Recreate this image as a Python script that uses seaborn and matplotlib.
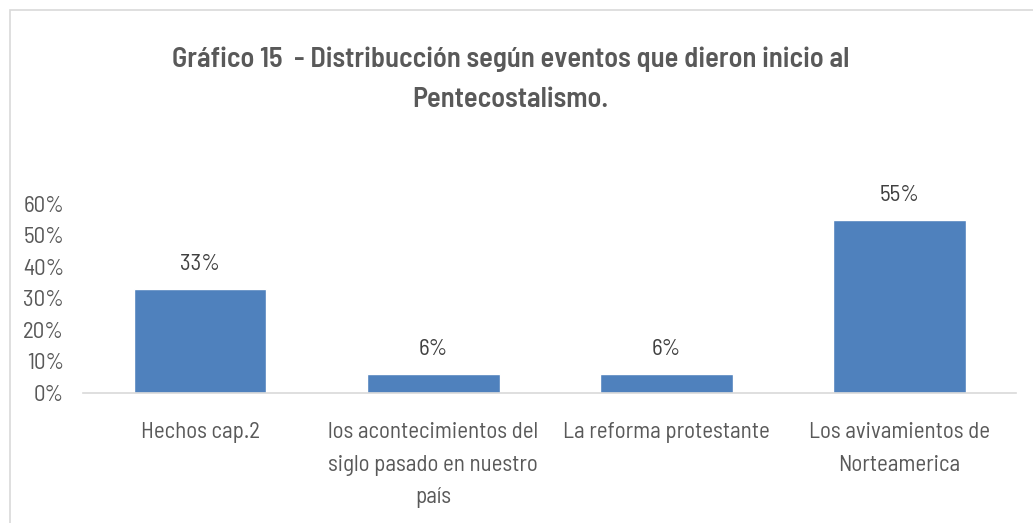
import matplotlib
matplotlib.use("Agg")
import matplotlib.pyplot as plt
import seaborn as sns
import pandas as pd
from matplotlib.ticker import PercentFormatter

categories = ["Hechos cap.2",
              "los acontecimientos del\nsiglo pasado en nuestro\npaís",
              "La reforma protestante",
              "Los avivamientos de\nNorteamerica"]
values = [0.33, 0.06, 0.06, 0.55]
value_labels = ["33%", "6%", "6%", "55%"]
title = "Gráfico 15  - Distribucción según eventos que dieron inicio al\nPentecostalismo."

sns.set_theme(style="white")
plt.rcParams['font.family'] = ['Barlow Semi Condensed', 'Liberation Sans', 'DejaVu Sans']

df = pd.DataFrame({"cat": categories, "val": values})

fig = plt.figure(figsize=(10.33, 5.23), dpi=100)
ax = fig.add_axes([0.0808, 0.2486, 0.9027, 0.3614])
sns.barplot(data=df, x="cat", y="val", color="#4F81BD", width=0.57,
            saturation=1, ax=ax)
ax.set_xlim(-0.5, 3.5)
ax.set_ylim(0, 0.6)
ax.set_yticks([0, 0.1, 0.2, 0.3, 0.4, 0.5, 0.6])
ax.yaxis.set_major_formatter(PercentFormatter(1.0, decimals=0))
fs = 16.5
ax.tick_params(axis='y', labelsize=fs, colors="#595959", length=0, pad=14)
ax.tick_params(axis='x', labelsize=fs, colors="#595959", length=0, pad=21)
for lbl in ax.get_xticklabels():
    lbl.set_linespacing(1.72)
ax.set_xlabel("")
ax.set_ylabel("")
for s in ["top", "right", "left"]:
    ax.spines[s].set_visible(False)
ax.spines["bottom"].set_color("#D9D9D9")
ax.spines["bottom"].set_linewidth(1.2)

for p, lab in zip(ax.patches, value_labels):
    ax.annotate(lab, (p.get_x() + p.get_width() / 2, p.get_height()),
                xytext=(0, 10), textcoords="offset points",
                ha="center", va="bottom", fontsize=fs, color="#404040")

fig.text(0.494, 0.849, title, ha="center", va="center", fontsize=20.5,
         fontweight="semibold", color="#595959", linespacing=1.75)

# outer chart border
border = plt.Rectangle((0.0095, -0.01), 1.2, 0.99, transform=fig.transFigure,
                       fill=False, edgecolor="#D9D9D9", linewidth=1.2)
fig.patches.append(border)

fig.savefig("out.png", dpi=100)
